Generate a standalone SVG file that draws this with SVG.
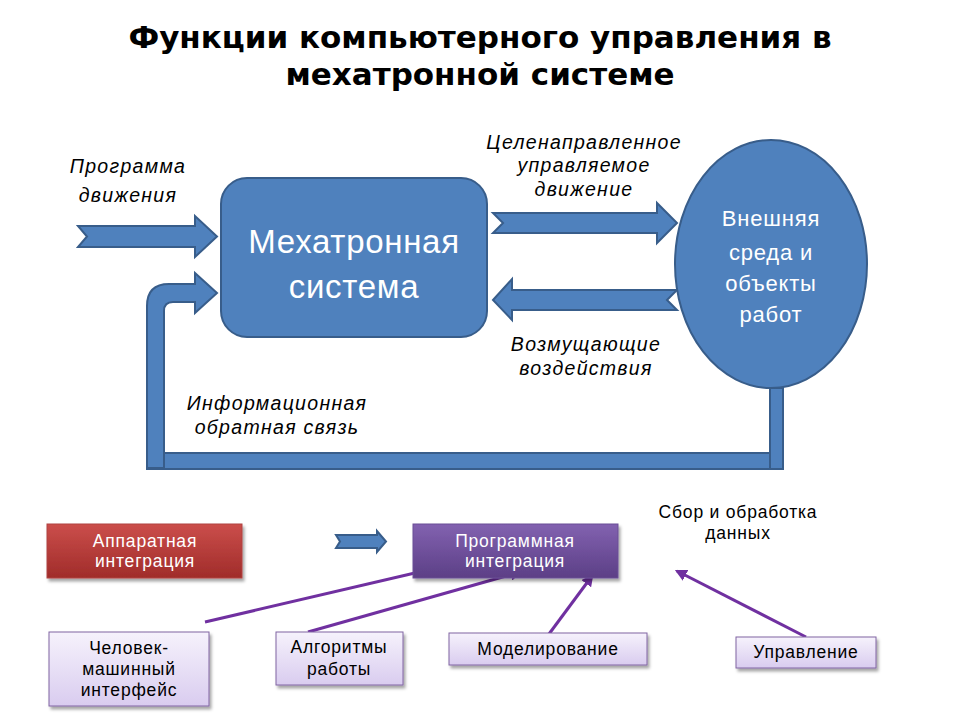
<svg xmlns="http://www.w3.org/2000/svg" width="960" height="720" viewBox="0 0 960 720">
<defs>
<linearGradient id="gRed" x1="0" y1="0" x2="0" y2="1"><stop offset="0" stop-color="#cb4e4b"/><stop offset="1" stop-color="#a02c2a"/></linearGradient>
<linearGradient id="gPur" x1="0" y1="0" x2="0" y2="1"><stop offset="0" stop-color="#8262b0"/><stop offset="1" stop-color="#5c3f86"/></linearGradient>
<linearGradient id="gLav" x1="0" y1="0" x2="0" y2="1"><stop offset="0" stop-color="#f6f2fc"/><stop offset="1" stop-color="#d9ccef"/></linearGradient>
<filter id="sh" x="-10%" y="-20%" width="130%" height="150%"><feDropShadow dx="2" dy="3" stdDeviation="1.5" flood-color="#000" flood-opacity="0.35"/></filter>
<marker id="ah" viewBox="0 0 10 10" refX="8" refY="5" markerWidth="4" markerHeight="4" orient="auto"><path d="M0,0 L10,5 L0,10 Z" fill="#7030a0"/></marker>
<style>
.blue{fill:#4f81bd;stroke:#385d8a;stroke-width:2}
.t{font-family:"Liberation Sans",Arial,sans-serif;text-anchor:middle}
.title{font-family:"DejaVu Sans","Liberation Sans",sans-serif;font-size:31px;font-weight:bold;fill:#000}
.big{font-size:33px;fill:#fff;letter-spacing:0.7px}
.ell{font-size:22px;fill:#fff;letter-spacing:0.8px}
.it{font-size:19.5px;font-style:italic;fill:#000;letter-spacing:1.3px}
.sm{font-size:17.5px;fill:#000;letter-spacing:0.8px}
.smw{font-size:17.5px;fill:#fff;letter-spacing:0.8px}
.lav{fill:url(#gLav);stroke:#8064a2;stroke-width:1}
.pl{stroke:#7030a0;stroke-width:3;fill:none;marker-end:url(#ah)}
</style>
</defs>
<rect width="960" height="720" fill="#fff"/>
<g id="title" class="t title">
<text x="480" y="48">Функции компьютерного управления в</text>
<text x="480" y="84.5">мехатронной системе</text>
</g>
<g id="connectors">
<polygon class="blue" points="78,226 195,226 195,216 217,236.5 195,257 195,247 78,247 87,236.5"/>
<polygon class="blue" points="493,213 657,213 657,203 677,223 657,243 657,233 493,233 503,223"/>
<polygon class="blue" points="493,300 512,279 512,290 677,290 667,300 677,310 512,310 512,320"/>
<rect class="blue" x="147" y="453" width="636" height="16"/>
<rect class="blue" x="770" y="388" width="13" height="81"/>
<path class="blue" d="M147,468 L147,306 Q147,284 169,284 L195,284 L195,273 L217,293 L195,313 L195,302 L173,302 Q164,302 164,311 L164,468 Z"/>
<line class="pl" x1="205" y1="622" x2="432" y2="569"/>
<line class="pl" x1="308" y1="632" x2="520" y2="572"/>
<line class="pl" x1="549" y1="634" x2="592" y2="576"/>
<line class="pl" x1="806" y1="637" x2="677" y2="571"/>
<polygon class="blue" points="336,535 377,535 377,531 386,541.5 377,552 377,548 336,548 340,541.5"/>
</g>
<g id="labels" class="t it">
<text x="128" y="173">Программа</text>
<text x="128" y="202">движения</text>
<text x="584" y="149">Целенаправленное</text>
<text x="584" y="172">управляемое</text>
<text x="584" y="196">движение</text>
<text x="586" y="351">Возмущающие</text>
<text x="586" y="375">воздействия</text>
<text x="277" y="410">Информационная</text>
<text x="277" y="434">обратная связь</text>
</g>
<g id="mechatronic">
<rect class="blue" x="221" y="178" width="266" height="159" rx="26"/>
<text class="t big" x="354" y="253">Мехатронная</text>
<text class="t big" x="354" y="298">система</text>
</g>
<g id="environment">
<ellipse class="blue" cx="771" cy="264" rx="96" ry="124"/>
<text class="t ell" x="771" y="226">Внешняя</text>
<text class="t ell" x="771" y="260">среда и</text>
<text class="t ell" x="771" y="291">объекты</text>
<text class="t ell" x="771" y="322">работ</text>
</g>
<g id="hardware">
<rect x="47" y="524" width="195" height="54" fill="url(#gRed)" stroke="#b04340" stroke-width="1" filter="url(#sh)"/>
<text class="t smw" x="145" y="547">Аппаратная</text>
<text class="t smw" x="145" y="567">интеграция</text>
</g>
<g id="software">
<rect x="413" y="524" width="205" height="54" fill="url(#gPur)" stroke="#6b4f95" stroke-width="1" filter="url(#sh)"/>
<text class="t smw" x="515" y="547">Программная</text>
<text class="t smw" x="515" y="567">интеграция</text>
</g>
<g id="data">
<text class="t sm" x="738" y="518">Сбор и обработка</text>
<text class="t sm" x="738" y="539">данных</text>
</g>
<g id="hmi">
<rect class="lav" x="49" y="632" width="160" height="74" filter="url(#sh)"/>
<text class="t sm" x="129" y="654">Человек-</text>
<text class="t sm" x="129" y="675">машинный</text>
<text class="t sm" x="129" y="696">интерфейс</text>
</g>
<g id="algorithms">
<rect class="lav" x="276" y="632" width="127" height="53" filter="url(#sh)"/>
<text class="t sm" x="339" y="653">Алгоритмы</text>
<text class="t sm" x="339" y="675">работы</text>
</g>
<g id="modeling">
<rect class="lav" x="449" y="633" width="198" height="32" filter="url(#sh)"/>
<text class="t sm" x="548" y="655">Моделирование</text>
</g>
<g id="control">
<rect class="lav" x="736" y="637" width="140" height="31" filter="url(#sh)"/>
<text class="t sm" x="806" y="658">Управление</text>
</g>
</svg>
